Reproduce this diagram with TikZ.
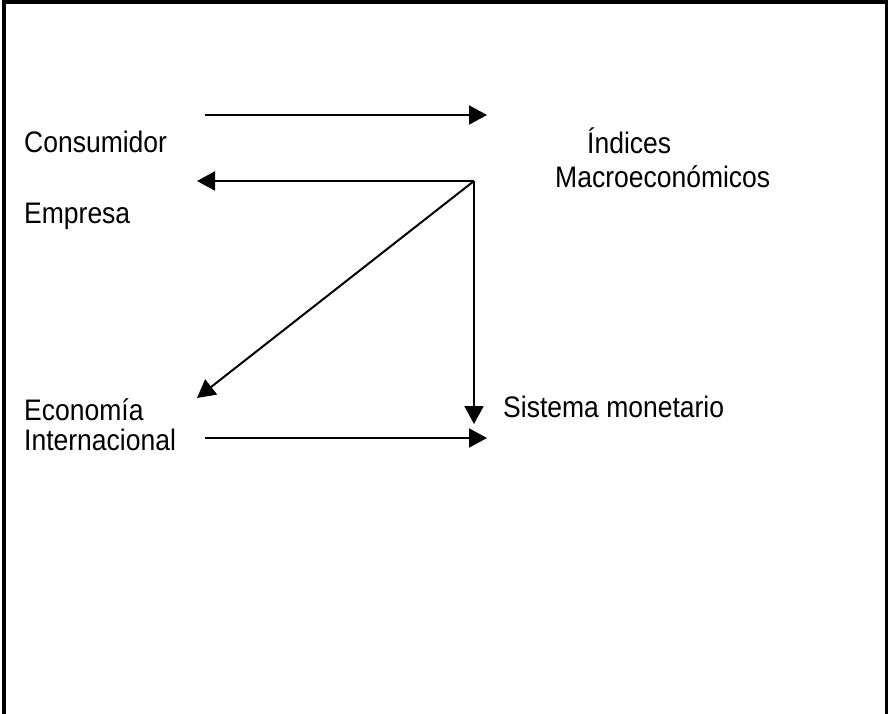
\documentclass[tikz,border=0pt]{standalone}
\usepackage{fontspec}
\setmainfont{Liberation Sans}
\usetikzlibrary{arrows.meta,positioning}
\tikzstyle{line} = [draw, line width=2pt, -{Triangle[length=18pt,width=19pt]}]
\tikzstyle{label} = [inner sep=0pt, anchor=base west, align=left, font=\fontsize{26.5}{30}\selectfont]
\tikzstyle{frame} = [draw, line width=4pt]
\newcommand{\tall}[1]{\scalebox{1}[1.12]{#1}}
\begin{document}
\begin{tikzpicture}[x=1pt, y=-1pt]
        \useasboundingbox[fill=white] (0,0) rectangle (888,714);
        \draw[frame] (4,714) -- (4,2) -- (888,2);
        \draw[line width=2.5pt] (886.5,0) -- (886.5,714);
        \node[label] (cons) at (24,153) {\tall{Consumidor}};
        \node[label] (emp) at (24,223) {\tall{Empresa}};
        \node[label] (eco) at (24,450) {\tall{Econom\'ia}\\\tall{Internacional}};
        \node[label] (ind) at (555,187) {\hspace*{32pt}\tall{\'Indices}\\[4pt]\tall{Macroecon\'omicos}};
        \node[label] (sis) at (503,417) {\tall{Sistema monetario}};
        \coordinate (hub) at (474,181);
        \coordinate (consout) at (205,115);
        \coordinate (indin) at (487,115);
        \coordinate (empin) at (197,181);
        \coordinate (ecoin) at (197,398);
        \coordinate (sisin) at (474,424);
        \coordinate (ecoout) at (205,438);
        \coordinate (sisin2) at (487,438);
        \path[line] (consout) -- (indin);
        \path[line] (hub) -- (empin);
        \path[line] (hub) -- (ecoin);
        \path[line] (hub) -- (sisin);
        \path[line] (ecoout) -- (sisin2);
    \end{tikzpicture}
\end{document}
